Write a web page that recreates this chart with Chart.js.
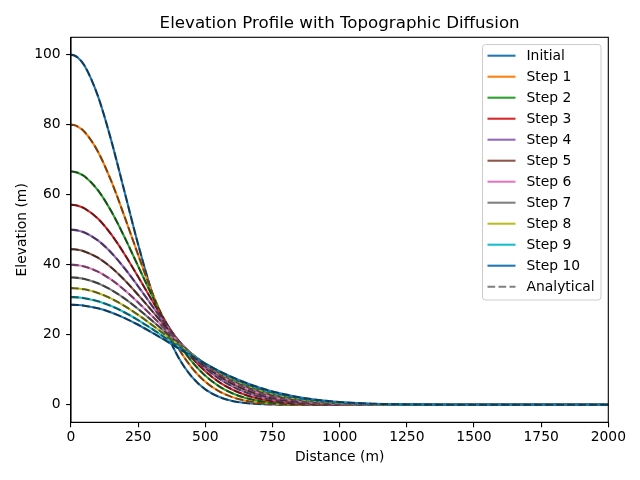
<!DOCTYPE html>
<html>
<head>
<meta charset="utf-8">
<script src="https://cdn.jsdelivr.net/npm/chart.js@4.4.1/dist/chart.umd.min.js"></script>
<style>
  html, body { margin: 0; padding: 0; background: #fff; }
  canvas { display: block; }
</style>
</head>
<body>
<canvas id="profile-chart" width="640" height="480"></canvas>
<script>
// distance along profile (m)
const distance = [0, 10, 25, 50, 100, 150, 200, 250, 300, 350, 400, 450, 500, 550, 600, 650, 700, 750, 800, 850, 900, 950, 1000, 1100, 1200, 1300, 1500, 1750, 2000];

// elevation (m)
const elevInitial = [100, 99.88, 99.22, 96.92, 88.25, 75.48, 60.65, 45.78, 32.47, 21.63, 13.53, 7.96, 4.39, 2.28, 1.11, 0.51, 0.22, 0.09, 0.03, 0.01, 0, 0, 0, 0, 0, 0, 0, 0, 0];
const elevStep1 = [80, 79.92, 79.50, 78.02, 72.39, 63.88, 53.63, 42.82, 32.45, 23.50, 16.15, 10.56, 6.57, 3.88, 2.19, 1.17, 0.60, 0.29, 0.13, 0.06, 0.02, 0.01, 0, 0, 0, 0, 0, 0, 0];
const elevStep2 = [66.67, 66.61, 66.32, 65.29, 61.34, 55.27, 47.77, 39.60, 31.49, 24.02, 17.57, 12.33, 8.30, 5.36, 3.32, 1.97, 1.12, 0.61, 0.32, 0.16, 0.08, 0.04, 0.02, 0, 0, 0, 0, 0, 0];
const elevStep3 = [57.14, 57.10, 56.89, 56.13, 53.20, 48.66, 42.94, 36.57, 30.04, 23.82, 18.22, 13.45, 9.58, 6.58, 4.37, 2.79, 1.73, 1.03, 0.59, 0.33, 0.18, 0.09, 0.05, 0.01, 0, 0, 0, 0, 0];
const elevStep4 = [50, 49.97, 49.80, 49.22, 46.97, 43.44, 38.94, 33.83, 28.49, 23.25, 18.39, 14.10, 10.48, 7.55, 5.27, 3.57, 2.34, 1.49, 0.92, 0.55, 0.32, 0.18, 0.10, 0.03, 0.01, 0, 0, 0, 0];
const elevStep5 = [44.44, 44.42, 44.29, 43.83, 42.04, 39.22, 35.59, 31.41, 26.96, 22.50, 18.27, 14.43, 11.08, 8.28, 6.01, 4.25, 2.92, 1.95, 1.27, 0.80, 0.49, 0.30, 0.17, 0.05, 0.01, 0, 0, 0, 0];
const elevStep6 = [40, 39.98, 39.88, 39.50, 38.05, 35.74, 32.75, 29.26, 25.51, 21.68, 17.97, 14.53, 11.46, 8.81, 6.61, 4.84, 3.45, 2.40, 1.63, 1.08, 0.70, 0.44, 0.27, 0.09, 0.03, 0.01, 0, 0, 0];
const elevStep7 = [36.36, 36.35, 36.26, 35.95, 34.75, 32.83, 30.32, 27.37, 24.15, 20.84, 17.57, 14.48, 11.67, 9.19, 7.08, 5.33, 3.92, 2.82, 1.98, 1.36, 0.92, 0.60, 0.39, 0.15, 0.05, 0.02, 0, 0, 0];
const elevStep8 = [33.33, 33.32, 33.25, 32.99, 31.97, 30.35, 28.22, 25.69, 22.91, 20.01, 17.11, 14.34, 11.76, 9.45, 7.44, 5.73, 4.33, 3.20, 2.32, 1.64, 1.14, 0.78, 0.52, 0.22, 0.08, 0.03, 0, 0, 0];
const elevStep9 = [30.77, 30.76, 30.70, 30.47, 29.61, 28.22, 26.38, 24.19, 21.77, 19.21, 16.63, 14.12, 11.76, 9.61, 7.71, 6.06, 4.67, 3.54, 2.63, 1.91, 1.36, 0.96, 0.66, 0.29, 0.12, 0.05, 0.01, 0, 0];
const elevStep10 = [28.57, 28.56, 28.51, 28.32, 27.57, 26.37, 24.77, 22.86, 20.72, 18.45, 16.13, 13.86, 11.70, 9.70, 7.90, 6.32, 4.96, 3.83, 2.91, 2.16, 1.58, 1.14, 0.80, 0.38, 0.17, 0.07, 0.01, 0, 0];

const seriesNames = ["Initial", "Step 1", "Step 2", "Step 3", "Step 4", "Step 5", "Step 6", "Step 7", "Step 8", "Step 9", "Step 10"];
const xTicks = [0, 250, 500, 750, 1000, 1250, 1500, 1750, 2000];
const yTicks = [0, 20, 40, 60, 80, 100];

(() => {
  const series = [elevInitial, elevStep1, elevStep2, elevStep3, elevStep4, elevStep5,
    elevStep6, elevStep7, elevStep8, elevStep9, elevStep10];
  const colors = ["#1f77b4", "#ff7f0e", "#2ca02c", "#d62728", "#9467bd", "#8c564b",
    "#e377c2", "#7f7f7f", "#bcbd22", "#17becf", "#1f77b4"];
  const font = "DejaVu Sans";
  const dashColor = "rgba(0,0,0,0.5)";
  const dash = [7.7, 3.3];
  const lw = 2.08;

  let datasets = [];
  let z = 100;
  series.forEach((ys, i) => {
    const pts = distance.map((x, j) => ({ x: x, y: ys[j] }));
    // numerical solution
    datasets.push({
      label: seriesNames[i],
      data: pts,
      borderColor: colors[i],
      borderWidth: lw,
      pointRadius: 0,
      fill: false,
      cubicInterpolationMode: "monotone",
      order: z--
    });
    // analytical solution on top
    datasets.push({
      label: "Analytical",
      data: pts,
      borderColor: dashColor,
      borderDash: dash,
      borderWidth: lw,
      pointRadius: 0,
      fill: false,
      cubicInterpolationMode: "monotone",
      order: z--
    });
  });

  const framePlugin = {
    id: "frame",
    afterDraw(chart) {
      const ctx = chart.ctx;
      const a = chart.chartArea;
      ctx.save();
      // box around axes
      ctx.strokeStyle = "#000";
      ctx.lineWidth = 1.1;
      ctx.strokeRect(a.left, a.top, a.right - a.left, a.bottom - a.top);

      // title
      ctx.fillStyle = "#000";
      ctx.font = "16.67px '" + font + "'";
      ctx.textAlign = "center";
      ctx.textBaseline = "middle";
      ctx.fillText("Elevation Profile with Topographic Diffusion", (a.left + a.right) / 2, 23.5);

      // legend
      const bx = 482.5, by = 44.5, bw = 118.5, bh = 255.5, r = 3;
      ctx.beginPath();
      ctx.moveTo(bx + r, by);
      ctx.arcTo(bx + bw, by, bx + bw, by + bh, r);
      ctx.arcTo(bx + bw, by + bh, bx, by + bh, r);
      ctx.arcTo(bx, by + bh, bx, by, r);
      ctx.arcTo(bx, by, bx + bw, by, r);
      ctx.closePath();
      ctx.fillStyle = "rgba(255,255,255,0.8)";
      ctx.fill();
      ctx.strokeStyle = "#cccccc";
      ctx.lineWidth = 1;
      ctx.stroke();

      const labels = seriesNames.concat(["Analytical"]);
      ctx.font = "13.89px '" + font + "'";
      ctx.textAlign = "left";
      labels.forEach((lab, i) => {
        const y = 55.7 + i * 21;
        ctx.beginPath();
        ctx.moveTo(487.5, y);
        ctx.lineTo(515.5, y);
        ctx.lineWidth = lw;
        if (i < colors.length) {
          ctx.setLineDash([]);
          ctx.strokeStyle = colors[i];
        } else {
          ctx.setLineDash(dash);
          ctx.strokeStyle = dashColor;
        }
        ctx.stroke();
        ctx.setLineDash([]);
        ctx.fillStyle = "#000";
        ctx.fillText(lab, 526.5, y + 0.5);
      });
      ctx.restore();
    }
  };

  let config = {
    type: "line",
    data: { datasets: datasets },
    options: {
      responsive: false,
      animation: false,
      devicePixelRatio: 1,
      layout: { padding: { top: 37.3, right: 31.7, left: 0, bottom: 0 } },
      plugins: {
        legend: { display: false },
        tooltip: { enabled: false },
        title: { display: false }
      },
      scales: {
        x: {
          type: "linear",
          min: 0,
          max: 2000,
          afterFit: (s) => { s.height = 57.7; },
          afterBuildTicks: (s) => { s.ticks = xTicks.map((v) => ({ value: v })); },
          ticks: {
            color: "#000",
            font: { family: font, size: 13.89 },
            padding: 1.5,
            maxRotation: 0,
            callback: (v) => String(v)
          },
          grid: { drawOnChartArea: false, drawTicks: true, tickLength: 4.86, color: "#000", lineWidth: 1.1 },
          border: { display: true, color: "#000", width: 1.1 },
          title: {
            display: true,
            text: "Distance (m)",
            color: "#000",
            font: { family: font, size: 13.89 },
            padding: { top: 0, bottom: 14 }
          }
        },
        y: {
          type: "linear",
          min: -5,
          max: 105,
          afterFit: (s) => { s.width = 71; },
          afterBuildTicks: (s) => { s.ticks = yTicks.map((v) => ({ value: v })); },
          ticks: {
            color: "#000",
            font: { family: font, size: 13.89 },
            padding: 5.5,
            callback: (v) => String(v)
          },
          grid: { drawOnChartArea: false, drawTicks: true, tickLength: 4.86, color: "#000", lineWidth: 1.1 },
          border: { display: true, color: "#000", width: 1.1 },
          title: {
            display: true,
            text: "Elevation (m)",
            color: "#000",
            font: { family: font, size: 13.89 },
            padding: { top: 14, bottom: 0 }
          }
        }
      }
    },
    plugins: [framePlugin]
  };

  new Chart(document.getElementById("profile-chart"), config);
})();
</script>
</body>
</html>
